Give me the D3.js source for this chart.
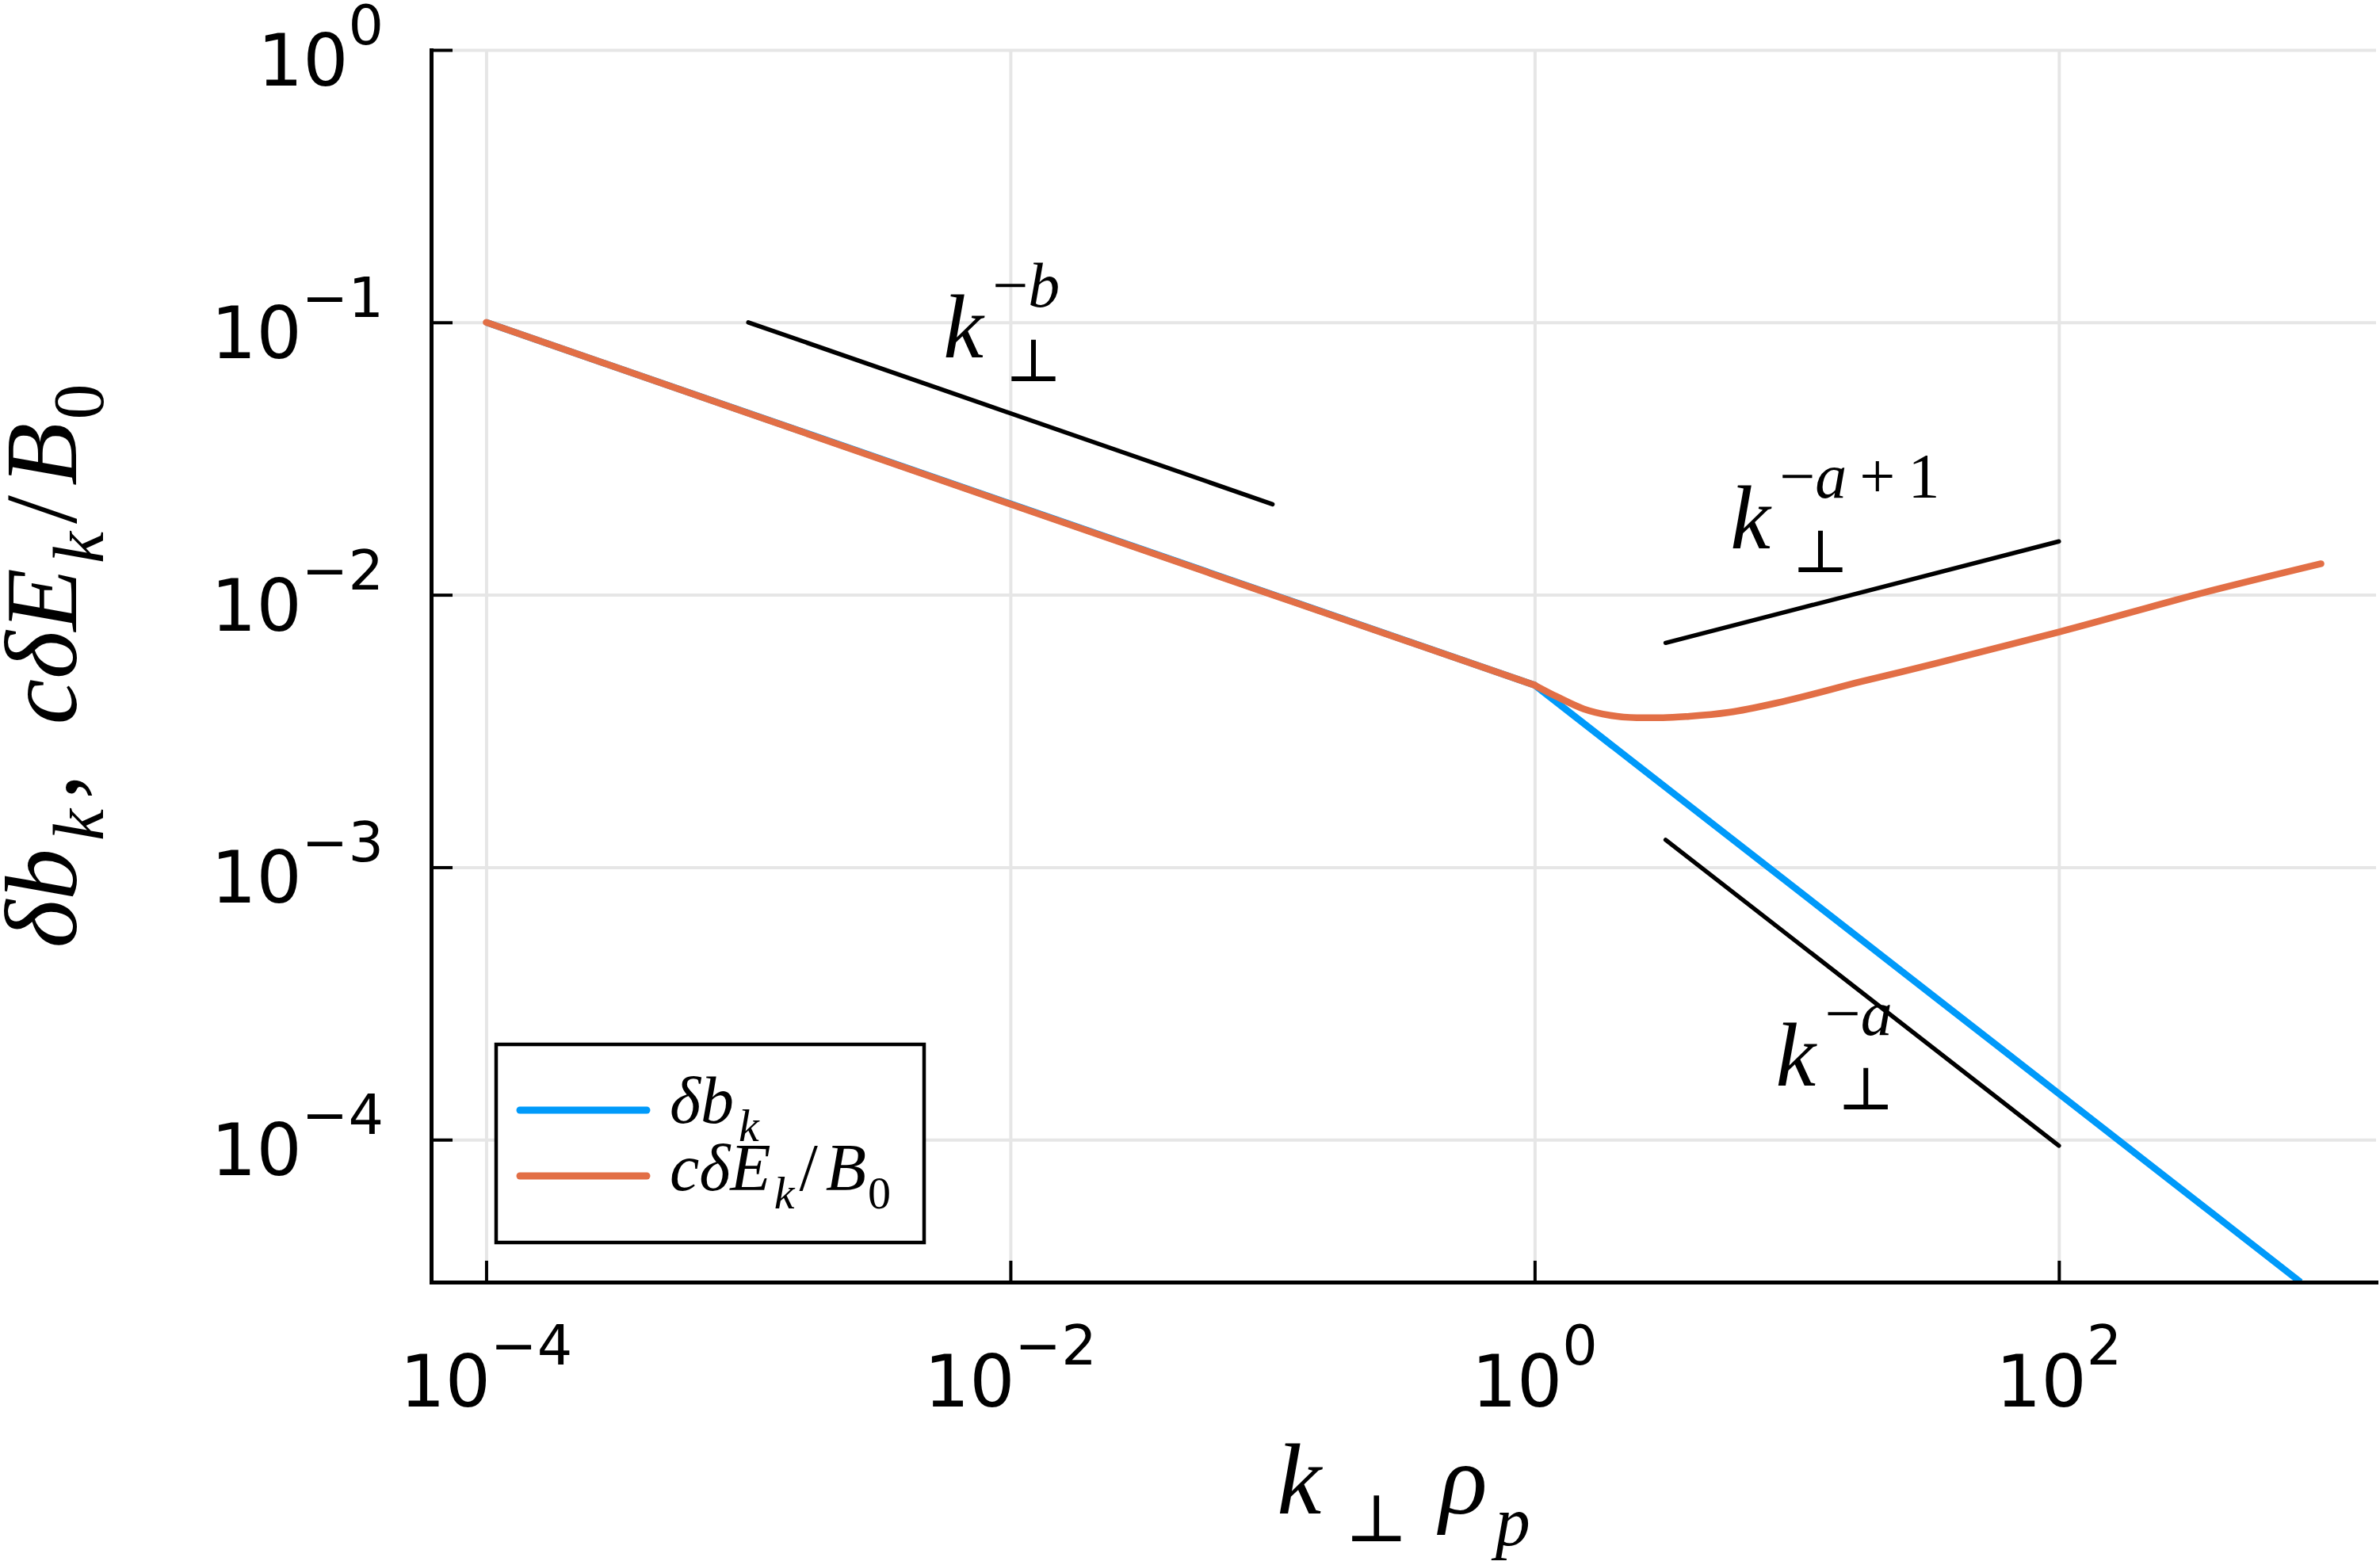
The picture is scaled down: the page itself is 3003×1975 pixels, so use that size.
<!DOCTYPE html>
<html>
<head>
<meta charset="utf-8">
<script src="https://cdn.jsdelivr.net/npm/d3@7"></script>
<style>
body { margin: 0; background: #fff; }
</style>
</head>
<body>
<script>
const WIDTH = 3003;
const HEIGHT = 1975;
const LEFT = 544;
const RIGHT = 2998;
const TOP = 63;
const BOTTOM = 1618;

const BLUE = '#009AFA';
const ORANGE = '#E26F46';
const GRID = '#e6e6e6';
const MATH = '"Liberation Serif", "DejaVu Serif", serif';
const SYMB = '"DejaVu Serif", serif';
const SANS = '"DejaVu Sans", sans-serif';

// values
var xTicks = [1e-4, 1e-2, 1, 1e2];
var xTickExp = ['\u22124', '\u22122', '0', '2'];
var yTicks = [1, 1e-1, 1e-2, 1e-3, 1e-4];
var yTickExp = ['0', '\u22121', '\u22122', '\u22123', '\u22124'];

var kBlue = [1e-4, 1, 836];
var ampBlue = [0.1, 0.00466, 3.0e-5];

var kOrange = [1e-4, 1e-3, 1e-2, 1e-1, 1, 1.22, 1.54, 1.94, 2.45, 3.09, 3.89, 5.5, 8.8, 17.6, 34, 100, 374, 1000];
var ampOrange = [0.1, 0.0464, 0.0215, 0.01, 0.00466, 0.00422, 0.00381, 0.00361, 0.00354, 0.00354, 0.00358, 0.0037, 0.00405, 0.0048, 0.0056, 0.0073, 0.0103, 0.0130];

var refK = [[1e-3, 1e-1], [3.16, 100], [3.16, 100]];
var refAmp = [[0.1, 0.0215], [0.00666, 0.0157], [0.00126, 9.5e-5]];

var noteK = [1e-2, 15, 15];
var noteAmp = [0.1, 0.02, 2e-4];
var noteSup = ['\u2212b', '\u2212a+1', '\u2212a'];

var svg = d3.select('body')
    .append('svg')
    .attr('width', WIDTH)
    .attr('height', HEIGHT);

svg.append('rect')
    .attr('width', WIDTH)
    .attr('height', HEIGHT)
    .attr('fill', '#fff');

var x = d3.scaleLog()
    .domain([Math.pow(10, -4.21), Math.pow(10, 3.21)])
    .range([LEFT, RIGHT]);
var y = d3.scaleLog()
    .domain([3e-5, 1])
    .range([BOTTOM, TOP]);

// grid
svg.append('g')
    .attr('transform', 'translate(0,' + BOTTOM + ')')
    .call(d3.axisBottom(x).tickValues(xTicks).tickSize(-(BOTTOM - TOP)).tickFormat(''))
    .call(function(g) { g.select('.domain').remove(); })
    .selectAll('line')
    .attr('stroke', GRID)
    .attr('stroke-width', 4);
svg.append('g')
    .attr('transform', 'translate(' + LEFT + ',0)')
    .call(d3.axisLeft(y).tickValues(yTicks).tickSize(-(RIGHT - LEFT)).tickFormat(''))
    .call(function(g) { g.select('.domain').remove(); })
    .selectAll('line')
    .attr('stroke', GRID)
    .attr('stroke-width', 4);

svg.append('clipPath')
    .attr('id', 'plot-clip')
    .append('rect')
    .attr('x', LEFT)
    .attr('y', TOP)
    .attr('width', RIGHT - LEFT)
    .attr('height', BOTTOM - TOP);

var plot = svg.append('g').attr('clip-path', 'url(#plot-clip)');

var line = d3.line()
    .x(function(d) { return x(d[0]); })
    .y(function(d) { return y(d[1]); });
var smooth = d3.line()
    .x(function(d) { return x(d[0]); })
    .y(function(d) { return y(d[1]); })
    .curve(d3.curveMonotoneX);

var blue = kBlue.map(function(k, i) { return [k, ampBlue[i]]; });
var orange = kOrange.map(function(k, i) { return [k, ampOrange[i]]; });

plot.append('path')
    .attr('d', line(blue))
    .attr('fill', 'none')
    .attr('stroke', BLUE)
    .attr('stroke-width', 8.5);
plot.append('path')
    .attr('d', line(orange.filter(function(d) { return d[0] <= 1; })))
    .attr('fill', 'none')
    .attr('stroke', ORANGE)
    .attr('stroke-width', 8.5)
    .attr('stroke-linecap', 'round')
    .attr('stroke-linejoin', 'round');
plot.append('path')
    .attr('d', smooth(orange.filter(function(d) { return d[0] >= 1; })))
    .attr('fill', 'none')
    .attr('stroke', ORANGE)
    .attr('stroke-width', 8.5)
    .attr('stroke-linecap', 'round')
    .attr('stroke-linejoin', 'round');

// reference slopes
svg.selectAll('.ref')
    .data(refK)
    .enter()
    .append('path')
    .attr('class', 'ref')
    .attr('d', function(d, i) {
        return line(d.map(function(k, j) { return [k, refAmp[i][j]]; }));
    })
    .attr('fill', 'none')
    .attr('stroke', 'black')
    .attr('stroke-width', 5.5)
    .attr('stroke-linecap', 'round');

// axes
var xAxis = svg.append('g')
    .attr('transform', 'translate(0,' + BOTTOM + ')')
    .call(d3.axisBottom(x).tickValues(xTicks).tickSize(-27).tickSizeOuter(0).tickFormat(''));
var yAxis = svg.append('g')
    .attr('transform', 'translate(' + LEFT + ',0)')
    .call(d3.axisLeft(y).tickValues(yTicks).tickSize(-27).tickSizeOuter(0).tickFormat(''));
[xAxis, yAxis].forEach(function(a) {
    a.select('.domain').attr('stroke', 'black').attr('stroke-width', 5).attr('stroke-linecap', 'square');
    a.selectAll('.tick line').attr('stroke', 'black').attr('stroke-width', 4);
    a.selectAll('.tick text').remove();
});

var xLabels = svg.append('g')
    .selectAll('text')
    .data(xTicks)
    .enter()
    .append('text')
    .attr('x', function(d) { return x(d); })
    .attr('y', BOTTOM + 157)
    .attr('text-anchor', 'middle')
    .attr('font-family', SANS)
    .attr('font-size', 90);
xLabels.append('tspan').text('10');
xLabels.append('tspan')
    .attr('dy', -53)
    .attr('font-size', 70)
    .text(function(d, i) { return xTickExp[i]; });

var yLabels = svg.append('g')
    .selectAll('text')
    .data(yTicks)
    .enter()
    .append('text')
    .attr('x', LEFT - 60)
    .attr('y', function(d) { return y(d) + 45; })
    .attr('text-anchor', 'end')
    .attr('font-family', SANS)
    .attr('font-size', 90);
yLabels.append('tspan').text('10');
yLabels.append('tspan')
    .attr('dy', -52)
    .attr('font-size', 70)
    .text(function(d, i) { return yTickExp[i]; });

// k_perp^{...} annotations
function addPieces(text, s, size) {
    s.split('').forEach(function(ch, i) {
        var t = text.append('tspan').text(ch).attr('font-size', size);
        if (/[a-z]/.test(ch)) t.attr('font-style', 'italic');
        if (ch === '+' || (i > 0 && s[i - 1] === '+')) t.attr('dx', 16);
    });
}

noteK.forEach(function(k, i) {
    var g = svg.append('g').attr('font-family', MATH);
    g.append('text')
        .attr('font-size', 114)
        .attr('font-style', 'italic')
        .text('k');
    var sup = g.append('text').attr('x', 62).attr('y', -64);
    addPieces(sup, noteSup[i], 80);
    g.append('text')
        .attr('x', 78)
        .attr('y', 30)
        .attr('font-family', SYMB)
        .attr('font-size', 76)
        .text('\u22A5');
    var tall = /[b0-9]/.test(noteSup[i]);
    var supTop = -64 - (tall ? 0.69 : 0.45) * 80;
    var bb = g.node().getBBox();
    var gx = x(k) - (bb.x + bb.width / 2) - 10;
    var gy = y(noteAmp[i]) - (supTop + 30) / 2;
    g.attr('transform', 'translate(' + gx + ',' + gy + ')');
});

// legend
var legX = LEFT + 82;
var legY = BOTTOM - 300;
var legend = svg.append('g').attr('transform', 'translate(' + legX + ',' + legY + ')');
legend.append('rect')
    .attr('width', 540)
    .attr('height', 250)
    .attr('fill', '#fff')
    .attr('stroke', 'black')
    .attr('stroke-width', 4.5);
[BLUE, ORANGE].forEach(function(c, i) {
    legend.append('line')
        .attr('x1', 30)
        .attr('x2', 190)
        .attr('y1', 83 + i * 83)
        .attr('y2', 83 + i * 83)
        .attr('stroke', c)
        .attr('stroke-width', 9)
        .attr('stroke-linecap', 'round');
});
var leg1 = legend.append('text')
    .attr('x', 219)
    .attr('y', 99)
    .attr('font-family', MATH)
    .attr('font-size', 84);
leg1.append('tspan').attr('font-style', 'italic').text('\u03B4b');
leg1.append('tspan').attr('font-style', 'italic').attr('font-size', 58).attr('dx', 6).attr('dy', 23).text('k');
var leg2 = legend.append('text')
    .attr('x', 219)
    .attr('y', 184)
    .attr('font-family', MATH)
    .attr('font-size', 84);
leg2.append('tspan').attr('font-style', 'italic').text('c\u03B4E');
leg2.append('tspan').attr('font-style', 'italic').attr('font-size', 58).attr('dx', 4).attr('dy', 23).text('k');
leg2.append('tspan').attr('dy', -23).attr('dx', 6).text('/');
leg2.append('tspan').attr('font-style', 'italic').attr('dx', 10).text('B');
leg2.append('tspan').attr('font-size', 58).attr('dx', 2).attr('dy', 23).text('0');

// axis titles
var xTitle = svg.append('text')
    .attr('x', (LEFT + RIGHT) / 2)
    .attr('y', 1910)
    .attr('text-anchor', 'middle')
    .attr('font-family', MATH)
    .attr('font-size', 126);
xTitle.append('tspan').attr('font-style', 'italic').text('k');
xTitle.append('tspan').attr('font-family', SYMB).attr('font-size', 84).attr('dx', 30).attr('dy', 35).text('\u22A5');
xTitle.append('tspan').attr('font-style', 'italic').attr('dx', 40).attr('dy', -35).text('\u03C1');
xTitle.append('tspan').attr('font-style', 'italic').attr('font-size', 88).attr('dx', 10).attr('dy', 40).text('p');

var yTitle = svg.append('text')
    .attr('transform', 'translate(96,' + (TOP + BOTTOM) / 2 + ') rotate(-90)')
    .attr('text-anchor', 'middle')
    .attr('font-family', MATH)
    .attr('font-size', 130);
yTitle.append('tspan').attr('font-style', 'italic').text('\u03B4b');
yTitle.append('tspan').attr('font-style', 'italic').attr('font-size', 90).attr('dx', 10).attr('dy', 34).text('k');
yTitle.append('tspan').attr('dx', 12).attr('dy', -34).text(',');
yTitle.append('tspan').attr('font-style', 'italic').attr('dx', 62).text('c\u03B4E');
yTitle.append('tspan').attr('font-style', 'italic').attr('font-size', 90).attr('dx', 6).attr('dy', 34).text('k');
yTitle.append('tspan').attr('dx', 10).attr('dy', -34).text('/');
yTitle.append('tspan').attr('font-style', 'italic').attr('dx', 12).text('B');
yTitle.append('tspan').attr('font-size', 90).attr('dx', 4).attr('dy', 34).text('0');
</script>
</body>
</html>
